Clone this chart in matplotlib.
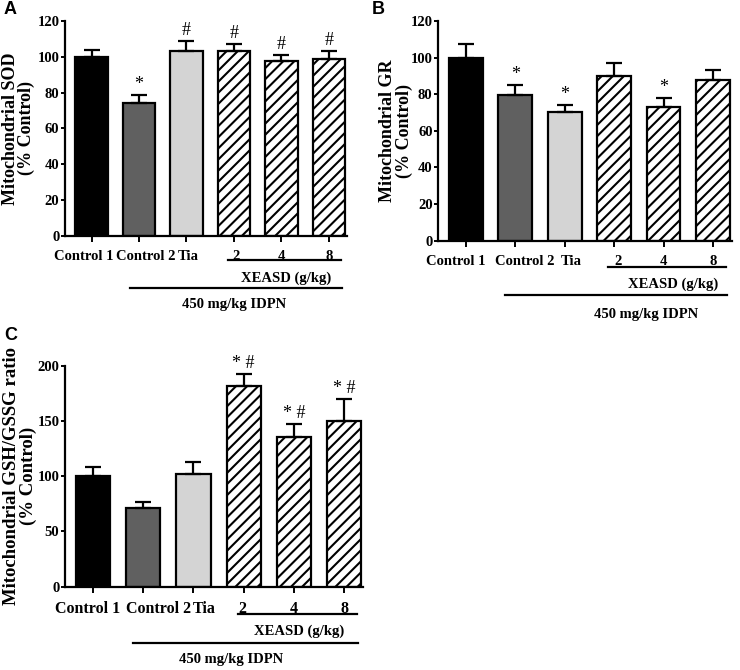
import numpy as np
import matplotlib
matplotlib.use("Agg")
import matplotlib.pyplot as plt
from matplotlib.transforms import offset_copy, ScaledTranslation

plt.rcParams['font.family'] = ['Liberation Serif', 'DejaVu Serif']
plt.rcParams['hatch.linewidth'] = 1.5

# data
groups = ['Control 1', 'Control 2', 'Tia', '2', '4', '8']

sod_mean = [100, 74.4, 103.2, 103.0, 97.5, 98.8]
sod_err = [4.0, 4.0, 5.4, 4.0, 3.7, 4.5]
sod_marks = ['', '*', '#', '#', '#', '#']

gr_mean = [100, 79.5, 70.4, 89.8, 73.1, 88.0]
gr_err = [7.5, 5.5, 3.5, 7.0, 4.6, 5.0]
gr_marks = ['', '*', '*', '', '*', '']

gsh_mean = [100.5, 71.5, 101.7, 181.6, 135.5, 149.7]
gsh_err = [8.0, 5.4, 11.0, 11.0, 11.5, 20.0]
gsh_marks = ['', '', '', '* #', '* #', '* #']

colors = ['#000000', '#606060', '#d4d4d4', 'white', 'white', 'white']
hatches = [None, None, None, '///', '///', '///']


def draw_panel(fig, rect, mean, err, marks, ylabel, ymax, ystep,
               offs, label_shift, xeasd_x, idpn_x, label_x, xfs=10.5, yfs=13):
    ax = fig.add_axes(rect)
    x = np.arange(len(groups))
    for i in range(len(groups)):
        ax.bar(x[i], mean[i], width=0.68, color=colors[i], edgecolor='black',
               linewidth=1.6, hatch=hatches[i], zorder=2)
    ax.errorbar(x, mean, yerr=[np.zeros(len(err)), err], fmt='none',
                ecolor='black', elinewidth=1.6, capsize=5.5, capthick=1.6, zorder=3)
    for i, m in enumerate(marks):
        if m:
            ax.annotate(m, (x[i], mean[i] + err[i]), xytext=(0, 1.5),
                        textcoords='offset points', ha='center', va='bottom',
                        fontsize=13)

    ax.set_xlim(-0.56, 5.38)
    ax.set_ylim(0, ymax)
    ax.set_yticks(np.arange(0, ymax + 1, ystep))
    ax.set_xticks(x)
    ax.set_xticklabels(groups)
    for sp in ['top', 'right']:
        ax.spines[sp].set_visible(False)
    for sp in ['left', 'bottom']:
        ax.spines[sp].set_linewidth(1.6)
    ax.tick_params(direction='out', length=3, width=1.4, labelsize=10.5, pad=1)
    ax.tick_params(axis='x', length=4, pad=6, labelsize=xfs)
    for lab in ax.get_xticklabels() + ax.get_yticklabels():
        lab.set_fontweight('bold')
    # nudge overlapping category labels like the original
    for lab, dx in zip(ax.get_xticklabels(), label_shift):
        lab.set_transform(lab.get_transform() + ScaledTranslation(dx / 100, 0, fig.dpi_scale_trans))

    ax.set_ylabel(ylabel, fontsize=yfs, fontweight='bold', linespacing=0.95)
    ax.yaxis.set_label_coords(label_x, 0.5)

    tr = ax.get_xaxis_transform()
    def below(px):
        return offset_copy(tr, fig=fig, x=0, y=-px, units='dots')
    ax.plot([2.88, 5.26], [0, 0], color='black', lw=1.6, transform=below(offs[0]),
            clip_on=False)
    ax.text(xeasd_x, 0, 'XEASD (g/kg)', transform=below(offs[1]), ha='center',
            va='center', fontsize=10.5, fontweight='bold')
    ax.plot([0.8, 5.28], [0, 0], color='black', lw=1.6, transform=below(offs[2]),
            clip_on=False)
    ax.text(idpn_x, 0, '450 mg/kg IDPN', transform=below(offs[3]), ha='center',
            va='center', fontsize=10.5, fontweight='bold')
    return ax


fig = plt.figure(figsize=(7.4, 6.7), dpi=100)

draw_panel(fig, [0.0878, 0.6478, 0.381, 0.321], sod_mean, sod_err, sod_marks,
           'Mitochondrial SOD\n(% Control)', 120, 20,
           (24, 42, 52, 69), (-8, 7, 2, 2, 0, 0), 4.1, 3.0, -0.105)
draw_panel(fig, [0.592, 0.6407, 0.397, 0.328], gr_mean, gr_err, gr_marks,
           'Mitochondrial GR\n(% Control)', 120, 20,
           (26, 44, 54, 74), (-10, 10, 7, 4, 0, 0), 4.19, 3.65, -0.086)
draw_panel(fig, [0.0878, 0.1243, 0.403, 0.33], gsh_mean, gsh_err, gsh_marks,
           'Mitochondrial GSH/GSSG ratio\n(% Control)', 200, 50,
           (27, 45, 56, 73), (-5, 15, 11, -1, 0, 0), 4.1, 2.74, -0.094, 11.5, 13.5)

for letter, (px, py) in zip('ABC', [(4, 9), (372, 9), (4, 336)]):
    fig.text(px / 740, 1 - py / 670, letter, fontsize=13, fontweight='bold',
             family='Liberation Sans', ha='left', va='center')

fig.savefig('out.png', dpi=100)
